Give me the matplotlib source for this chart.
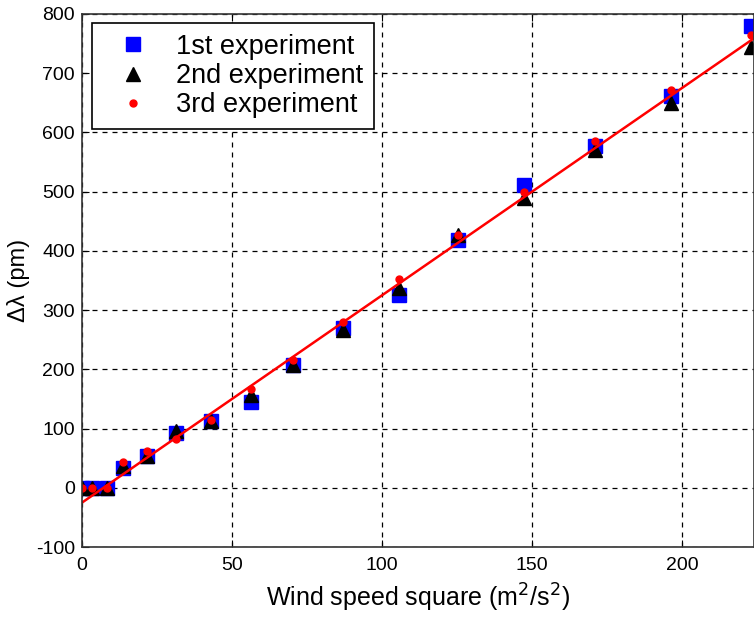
import matplotlib.pyplot as plt
import numpy as np

plt.rcParams['font.family'] = ['Liberation Sans', 'DejaVu Sans']
plt.rcParams['axes.unicode_minus'] = False

# wind speed squared (m^2/s^2)
wind_sq = [0, 3.3, 8.3, 13.8, 21.6, 31.4, 42.9, 56.2, 70.3, 87, 105.7, 125.3, 147.3, 171, 196.4, 222.9]
# wavelength shift (pm) for each run
exp1 = [0, 0, 0, 34, 54, 93, 112, 145, 208, 270, 326, 419, 512, 577, 661, 780]
exp2 = [0, 0, 0, 37, 54, 96, 112, 157, 208, 267, 337, 427, 489, 570, 649, 745]
exp3 = [0, 0, 0, 44, 62, 83, 115, 167, 215, 280, 353, 426, 500, 585, 671, 765]
# linear fit: slope, intercept
fit_coef = [3.5, -25]

x_ticks = [0, 50, 100, 150, 200]
y_ticks = [-100, 0, 100, 200, 300, 400, 500, 600, 700, 800]

fig = plt.figure(figsize=(7.54, 6.19), dpi=100)
ax = fig.add_axes([0.1088, 0.1163, 0.8912, 0.8611])

ax.plot(wind_sq, exp1, 's', color='#0000ff', markersize=9.5, linestyle='none', label='1st experiment')
ax.plot(wind_sq, exp2, '^', color='black', markersize=9.5, linestyle='none', label='2nd experiment')
xf = np.array([0, 230])
ax.plot(xf, np.polyval(fit_coef, xf), '-', color='red', linewidth=1.8)
ax.plot(wind_sq, exp3, 'o', color='red', markersize=5, linestyle='none', label='3rd experiment')

ax.set_xlim(0, 224)
ax.set_ylim(-100, 800)
ax.set_xticks(x_ticks)
ax.set_yticks(y_ticks)
ax.tick_params(axis='both', direction='in', length=5, top=True, right=False, labelsize=14)
ax.tick_params(axis='x', pad=7)
ax.tick_params(axis='y', pad=5)
ax.grid(True, color='black', linestyle=(0, (4, 4)), linewidth=0.9)
for sp in ax.spines.values():
    sp.set_color('#333333')
    sp.set_linewidth(1.2)

ax.set_xlabel('Wind speed square (m$^2$/s$^2$)', fontsize=18, labelpad=6)
ax.set_ylabel('Δλ (pm)', fontsize=17, labelpad=4)

leg = ax.legend(loc='upper left', bbox_to_anchor=(0.015, 0.983), fontsize=19.5, numpoints=1,
                handlelength=2.2, handletextpad=0.5, borderpad=0.4, labelspacing=0.12,
                borderaxespad=0, fancybox=False, framealpha=1, edgecolor='black')
leg.get_frame().set_linewidth(1.2)

fig.savefig('out.png', dpi=100)
